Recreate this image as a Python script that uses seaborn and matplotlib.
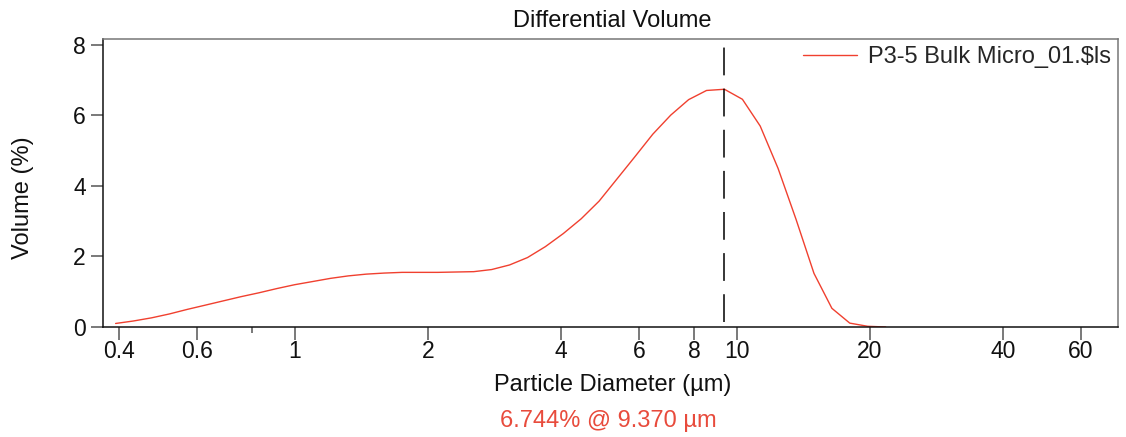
import numpy as np
import pandas as pd
import matplotlib
matplotlib.use("Agg")
import matplotlib.pyplot as plt
from matplotlib.ticker import NullFormatter
import seaborn as sns

# particle size distribution
diameter = [0.393, 0.431, 0.474, 0.520, 0.571, 0.627, 0.688, 0.755, 0.829, 0.910,
            0.999, 1.097, 1.204, 1.321, 1.451, 1.593, 1.748, 1.919, 2.107, 2.313,
            2.539, 2.787, 3.059, 3.359, 3.687, 4.047, 4.443, 4.877, 5.354, 5.877,
            6.452, 7.083, 7.776, 8.536, 9.370, 10.29, 11.29, 12.39, 13.61, 14.94,
            16.40, 18.00, 19.76, 21.70]
volume = [0.10, 0.17, 0.26, 0.37, 0.50, 0.62, 0.74, 0.86, 0.97, 1.09,
          1.20, 1.29, 1.38, 1.45, 1.50, 1.53, 1.55, 1.55, 1.55, 1.56,
          1.57, 1.63, 1.76, 1.97, 2.28, 2.65, 3.07, 3.57, 4.20, 4.83,
          5.47, 6.01, 6.45, 6.71, 6.744, 6.46, 5.70, 4.50, 3.05, 1.52,
          0.53, 0.11, 0.02, 0.00]
sample = "P3-5 Bulk Micro_01.$ls"
peak_size = 9.370
peak_vol = 6.744

xticks = [0.4, 0.6, 1, 2, 4, 6, 8, 10, 20, 40, 60]
xticklabels = ["0.4", "0.6", "1", "2", "4", "6", "8", "10", "20", "40", "60"]
xminor = [0.8]
yticks = [0, 2, 4, 6, 8]

sns.set_style("ticks")
plt.rcParams["font.family"] = ["Liberation Sans", "DejaVu Sans"]
plt.rcParams["lines.scale_dashes"] = False

df = pd.DataFrame({"diameter": diameter, "volume": volume})

fig = plt.figure(figsize=(11.26, 4.37), dpi=100)
ax = fig.add_axes([103 / 1126, 1 - 327 / 437, 1015 / 1126, 288 / 437])

sns.lineplot(data=df, x="diameter", y="volume", ax=ax, color="#f0402f",
             lw=1.0, label=sample)
ax.axvline(peak_size, ymin=0.017, ymax=0.997, color="black", lw=1.1,
           linestyle=(0, (20, 9.6)))

ax.set_xscale("log")
ax.set_xlim(0.368, 72.8)
ax.set_ylim(0, 8.17)
ax.set_xticks(xticks, xticklabels)
ax.set_xticks(xminor, minor=True)
ax.xaxis.set_minor_formatter(NullFormatter())
ax.set_yticks(yticks)

ax.tick_params(axis="both", which="major", direction="out", length=9,
               width=1.1, color="#555555", labelsize=16.5, labelcolor="#111111")
ax.tick_params(axis="x", which="major", pad=0.5)
ax.tick_params(axis="y", which="major", pad=3.5)
ax.tick_params(axis="x", which="minor", direction="out", length=4.5,
               width=1.1, color="#555555")

for side in ["left", "bottom"]:
    ax.spines[side].set_color("#111111")
    ax.spines[side].set_linewidth(1.1)
for side in ["top", "right"]:
    ax.spines[side].set_visible(True)
    ax.spines[side].set_color("#777777")
    ax.spines[side].set_linewidth(1.1)

ax.set_xlabel("Particle Diameter (µm)", fontsize=17, color="#111111",
              va="baseline")
ax.xaxis.set_label_coords(0.5025, -0.222)
ax.set_ylabel("Volume (%)", fontsize=17, color="#111111", va="center")
ax.yaxis.set_label_coords(-0.079, 0.45)

fig.text(0.5435, 1 - 27 / 437, "Differential Volume", fontsize=17,
         color="#111111", ha="center", va="baseline")
fig.text(608.5 / 1126, 1 - 427 / 437, f"{peak_vol:.3f}% @ {peak_size:.3f} µm",
         fontsize=17, color="#e84b3c", ha="center", va="baseline")

ax.legend(loc="upper right", frameon=False, fontsize=17, handlelength=2.3,
          handletextpad=0.45, borderaxespad=0.1, borderpad=0.2)

fig.savefig("out.png", dpi=100)
